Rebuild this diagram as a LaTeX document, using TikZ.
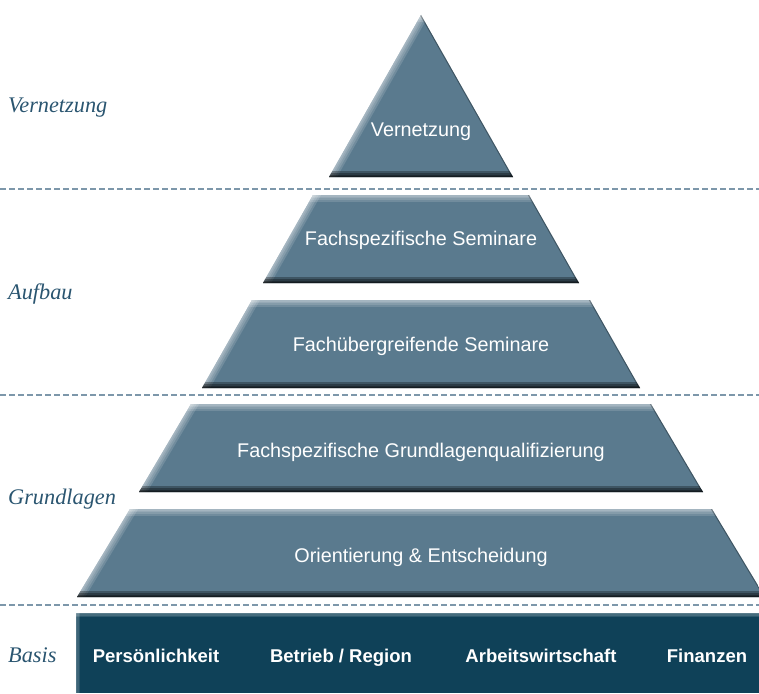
\documentclass[tikz,border=0pt]{standalone}
\usepackage{fontspec}
\setmainfont{Liberation Serif}
\setsansfont{Liberation Sans}
\definecolor{schiefer}{HTML}{5A7A8E}
\definecolor{petrol}{HTML}{0F4158}
\definecolor{etikett}{HTML}{2A5570}
\definecolor{strich}{HTML}{7D97AA}
\tikzset{
  stufe text/.style={font=\sffamily\fontsize{19.8}{19.8}\selectfont, text=white, anchor=base, inner sep=0pt},
  basis text/.style={font=\sffamily\bfseries\fontsize{18.5}{18.5}\selectfont, text=white, anchor=base, inner sep=0pt},
  ebene/.style={font=\itshape\fontsize{22.3}{22.3}\selectfont, text=etikett, anchor=base west, inner sep=0pt},
  trenner/.style={strich, line width=1.1pt, dash pattern=on 6pt off 3pt},
}
\tikzset{
  stufe/.pic={
    \tikzset{/stufe/.cd, #1}
    \begin{scope}
      \clip (-\stufeoben,0) -- (\stufeoben,0) -- (\stufeunten,\stufehoehe) -- (-\stufeunten,\stufehoehe) -- cycle;
      \fill[schiefer] (-400,-10) rectangle (400,\stufehoehe+10);
      % helle Kante oben und links
      \foreach \w in {14,10,6,3}
        \draw[white, opacity=.14, line width=\w pt] (-400,0) -- (400,0);
      \foreach \w in {14,10,6,3}
        \draw[white, opacity=.14, line width=\w pt, shorten <=-20pt, shorten >=-20pt]
          (-\stufeunten,\stufehoehe) -- (-\stufeoben,0);
      % dunkle Kante rechts und unten
      \draw[black, opacity=.3, line width=2pt, shorten <=-20pt, shorten >=-20pt]
        (\stufeoben,0) -- (\stufeunten,\stufehoehe);
      \foreach \w in {12,8,5,3}
        \draw[black, opacity=.3, line width=\w pt] (-400,\stufehoehe) -- (400,\stufehoehe);
    \end{scope}
  },
  /stufe/.search also={/tikz},
  /stufe/.cd,
  oben/.store in=\stufeoben,
  unten/.store in=\stufeunten,
  hoehe/.store in=\stufehoehe,
  oben=0,
  unten=100,
  hoehe=88,
}

\begin{document}
\begin{tikzpicture}[x=1pt, y=-1pt]
    \clip (0,0) rectangle (759,693);

    % Trennlinien
    \draw[trenner] (0,189) -- (759,189);
    \draw[trenner] (0,395) -- (759,395);
    \draw[trenner] (0,605) -- (759,605);

    % Pyramide
    \pic at (421,15)  {stufe={oben=0,   unten=92,  hoehe=162}};
    \pic at (421,195) {stufe={oben=108, unten=158}};
    \pic at (421,300) {stufe={oben=169, unten=219}};
    \pic at (421,404) {stufe={oben=230, unten=282}};
    \pic at (421,509) {stufe={oben=291, unten=344}};

    \node[stufe text] (vernetzung) at (421,136) {Vernetzung};
    \node[stufe text] (fachsem)    at (421,245) {Fachspezifische Seminare};
    \node[stufe text] (uebersem)   at (421,351) {Fachübergreifende Seminare};
    \node[stufe text] (grundqual)  at (421,457) {Fachspezifische Grundlagenqualifizierung};
    \node[stufe text] (orient)     at (421,562) {Orientierung \& Entscheidung};

    % Basis
    \fill[petrol] (76,613) rectangle (759,693);
    \begin{scope}
      \clip (76,613) rectangle (759,693);
      \foreach \w in {8,5,2}
        \draw[white, opacity=.12, line width=\w pt] (70,613) -- (770,613);
      \foreach \w in {8,5,2}
        \draw[white, opacity=.1, line width=\w pt] (76,600) -- (76,700);
    \end{scope}
    \node[basis text] (persoenlich) at (156,662) {Persönlichkeit};
    \node[basis text] (betrieb)     at (341,662) {Betrieb / Region};
    \node[basis text] (arbeit)      at (541,662) {Arbeitswirtschaft};
    \node[basis text] (finanzen)    at (707,662) {Finanzen};

    % Ebenen links
    \node[ebene] (lbl-vernetzung) at (8,112) {Vernetzung};
    \node[ebene] (lbl-aufbau)     at (8,299) {Aufbau};
    \node[ebene] (lbl-grundlagen) at (8,504) {Grundlagen};
    \node[ebene] (lbl-basis)      at (8,662) {Basis};
\end{tikzpicture}
\end{document}
